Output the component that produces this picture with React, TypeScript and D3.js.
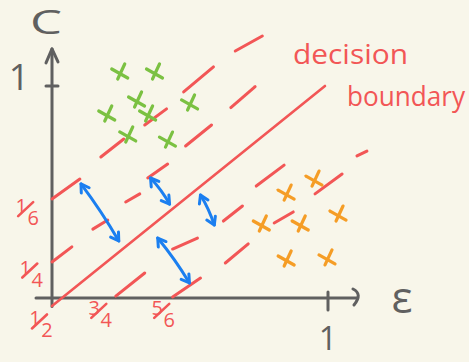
import React from "react";
import * as d3 from "d3";

// Plot size
const W = 469;
const H = 362;

// Level lines of the classifier: each dash is [ε0, C0, ε1, C1]
const levelSixth = [
  [0.0, 0.467, 0.101, 0.561],
  [0.177, 0.665, 0.26, 0.75],
  [0.336, 0.816, 0.415, 0.892],
  [0.477, 0.972, 0.585, 1.09],
  [0.664, 1.165, 0.762, 1.236],
];
const levelQuarter = [
  [0.0, 0.17, 0.072, 0.241],
  [0.148, 0.325, 0.202, 0.368],
  [0.267, 0.453, 0.318, 0.491],
  [0.347, 0.566, 0.419, 0.632],
  [0.484, 0.717, 0.578, 0.816],
  [0.648, 0.898, 0.736, 0.997],
];
const levelThreeQuarters = [
  [0.231, 0.009, 0.336, 0.118],
  [0.437, 0.231, 0.527, 0.283],
  [0.621, 0.363, 0.69, 0.434],
  [0.74, 0.528, 0.841, 0.627],
];
const levelFiveSixths = [
  [0.437, 0.005, 0.538, 0.094],
  [0.628, 0.165, 0.711, 0.255],
  [0.805, 0.354, 0.874, 0.406],
  [0.953, 0.491, 1.051, 0.585],
  [1.105, 0.67, 1.141, 0.693],
];
// Decision boundary C = ε (solid)
const boundary = [[0.0, -0.038, 0.989, 1.0]];

// Margin arrows between the boundary and the level lines
const marginArrows = [
  [0.105, 0.538, 0.242, 0.269],
  [0.357, 0.566, 0.426, 0.443],
  [0.538, 0.486, 0.588, 0.344],
  [0.383, 0.283, 0.498, 0.071],
];

// Samples of each class (ε, C)
const greenPoints = [
  [0.249, 1.066],
  [0.375, 1.066],
  [0.31, 0.934],
  [0.35, 0.868],
  [0.502, 0.92],
  [0.202, 0.868],
  [0.278, 0.769],
  [0.422, 0.745],
];
const orangePoints = [
  [0.953, 0.561],
  [0.852, 0.495],
  [0.762, 0.349],
  [0.903, 0.349],
  [1.04, 0.396],
  [0.852, 0.184],
  [1.0, 0.189],
];

// Level labels on the axes
const yLevelLabels = [
  { num: "1", den: "6", e: -0.09, c: 0.41 },
  { num: "1", den: "4", e: -0.075, c: 0.12 },
  { num: "1", den: "2", e: -0.04, c: -0.12 },
];
const xLevelLabels = [
  { num: "3", den: "4", e: 0.175, c: -0.07 },
  { num: "5", den: "6", e: 0.403, c: -0.07 },
];

const RED = "#f25656";
const BLUE = "#1b7ff0";
const GREEN = "#7bc142";
const ORANGE = "#f59d26";
const GRAY = "#606060";
const BG = "#f8f6ea";
const FONT = "'Open Sans', 'DejaVu Sans', sans-serif";

export default function App() {
  const x = d3.scaleLinear().domain([0, 1]).range([52, 328]);
  const y = d3.scaleLinear().domain([0, 1]).range([298, 86]);

  const seg = (d: number[], key: string, stroke: string, width: number) => (
    <line
      key={key}
      x1={x(d[0])}
      y1={y(d[1])}
      x2={x(d[2])}
      y2={y(d[3])}
      stroke={stroke}
      strokeWidth={width}
      strokeLinecap="round"
    />
  );

  const levels = [levelSixth, levelQuarter, levelThreeQuarters, levelFiveSixths];

  // Double-headed arrow with open chevron heads
  const arrow = (d: number[], i: number) => {
    const x1 = x(d[0]);
    const y1 = y(d[1]);
    const x2 = x(d[2]);
    const y2 = y(d[3]);
    const ang = Math.atan2(y2 - y1, x2 - x1);
    const L = 9;
    const spread = 0.55;
    const head = (px: number, py: number, a: number) =>
      `M${px + L * Math.cos(a + spread)},${py + L * Math.sin(a + spread)}L${px},${py}L${
        px + L * Math.cos(a - spread)
      },${py + L * Math.sin(a - spread)}`;
    const mx = (x1 + x2) / 2 + 2 * Math.sin(ang);
    const my = (y1 + y2) / 2 - 2 * Math.cos(ang);
    const d0 = `M${x1},${y1}Q${mx},${my} ${x2},${y2}`;
    return (
      <g key={"a" + i} fill="none" stroke={BLUE} strokeWidth={3} strokeLinecap="round" strokeLinejoin="round">
        <path d={d0} />
        <path d={head(x1, y1, ang)} />
        <path d={head(x2, y2, ang + Math.PI)} />
      </g>
    );
  };

  const cross = (p: number[], i: number, color: string) => {
    const cx = x(p[0]);
    const cy = y(p[1]);
    return (
      <g key={color + i} stroke={color} strokeWidth={3.2} strokeLinecap="round" fill="none">
        <line x1={cx - 9} y1={cy - 3} x2={cx + 7} y2={cy + 6} />
        <line x1={cx + 4} y1={cy - 8} x2={cx - 3} y2={cy + 7} />
      </g>
    );
  };

  // Hand-style fraction: numerator up-left, slash, denominator down-right
  const fraction = (l: { num: string; den: string; e: number; c: number }) => {
    const cx = x(l.e);
    const cy = y(l.c);
    return (
      <g key={l.num + l.den + l.c}>
        <text x={cx - 6} y={cy + 2} fontSize={20} textAnchor="middle">
          {l.num}
        </text>
        <line x1={cx - 9} y1={cy + 5} x2={cx + 6} y2={cy - 9} stroke={RED} strokeWidth={2.6} strokeLinecap="round" />
        <text x={cx + 6} y={cy + 14} fontSize={20} textAnchor="middle">
          {l.den}
        </text>
      </g>
    );
  };

  const x0 = x(0);
  const yAxisTop = y(1.175);
  const y0 = y(0);
  const xAxisEnd = x(1.105);

  return (
    <svg width={W} height={H} style={{ display: "block", position: "absolute", left: 0, top: 0 }}>
      <rect width={W} height={H} fill={BG} />

      {/* axes */}
      <g stroke={GRAY} strokeWidth={3} strokeLinecap="round" fill="none">
        <line x1={x0} y1={y(-0.04)} x2={x0} y2={yAxisTop} />
        <path d={`M${x0 - 6},${yAxisTop + 14}L${x0},${yAxisTop}L${x0 + 6},${yAxisTop + 13}`} strokeLinejoin="round" />
        <line x1={x(-0.058)} y1={y0} x2={xAxisEnd} y2={y0} />
        <path d={`M${xAxisEnd - 4},${y0 - 9}Q${xAxisEnd + 6},${y0 - 4} ${xAxisEnd - 3},${y0 + 7}`} />
        <line x1={x0 - 6} y1={y(1)} x2={x0 + 6} y2={y(1)} />
        <line x1={x(1)} y1={y0 - 6} x2={x(1)} y2={y0 + 12} />
      </g>

      {/* axis titles and unit ticks */}
      <g fill={GRAY} fontFamily={FONT}>
        <text x={46} y={34} fontSize={32} textAnchor="middle" textLength={32} lengthAdjust="spacingAndGlyphs">
          C
        </text>
        <text x={19} y={90} fontSize={36} textAnchor="middle">
          1
        </text>
        <text x={x(1)} y={350} fontSize={32} textAnchor="middle">
          1
        </text>
        <text x={402} y={313} fontSize={44} textAnchor="middle">
          ε
        </text>
      </g>

      {/* level lines */}
      {levels.map((lv, li) => lv.map((d, di) => seg(d, `l${li}-${di}`, RED, 3)))}
      {boundary.map((d, i) => seg(d, "b" + i, RED, 2.6))}

      {/* margin arrows */}
      {marginArrows.map(arrow)}

      {/* samples */}
      {greenPoints.map((p, i) => cross(p, i, GREEN))}
      {orangePoints.map((p, i) => cross(p, i, ORANGE))}

      {/* level labels */}
      <g fill={RED} fontFamily={FONT}>
        {yLevelLabels.map(fraction)}
        {xLevelLabels.map(fraction)}
      </g>

      {/* boundary annotation */}
      <g fill={RED} fontFamily={FONT} fontSize={27}>
        <text x={293} y={64} textLength={115} lengthAdjust="spacingAndGlyphs">
          decision
        </text>
        <text x={347} y={106} textLength={118} lengthAdjust="spacingAndGlyphs">
          boundary
        </text>
      </g>
    </svg>
  );
}
